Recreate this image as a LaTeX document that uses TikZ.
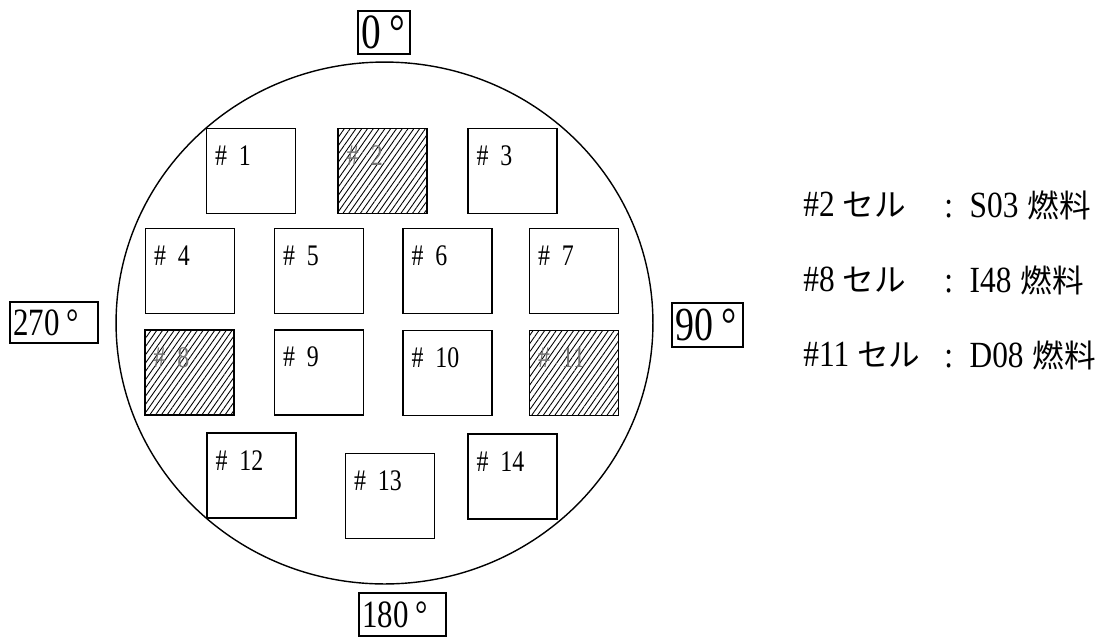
\documentclass[tikz,border=0pt]{standalone}
\usepackage{fontspec}
\setmainfont{Liberation Serif}[FakeStretch=0.8]
\newfontfamily\legfont{Liberation Serif}[FakeStretch=0.85]
\newfontfamily\jp{Noto Sans CJK JP}
\usetikzlibrary{patterns.meta}

\tikzset{
  cell/.style={draw, line width=0.9pt, minimum width=1.78cm, minimum height=1.7cm, inner sep=0pt},
  hatched/.style={cell, pattern={Lines[angle=55,distance=2.7pt,line width=0.5pt]}},
  cellnum/.style={anchor=west, inner sep=0pt, font=\fontsize{17}{19}\selectfont},
  deg/.style={draw, line width=0.6pt, inner xsep=2pt, inner ysep=0pt, align=left},
  legend/.style={anchor=west, inner sep=0pt, font=\legfont\fontsize{21}{23}\selectfont}
}
\newcommand{\jptext}[1]{{\jp\fontsize{18}{20}\selectfont #1}}

\begin{document}
\begin{tikzpicture}[x=0.02cm, y=-0.02cm]
\useasboundingbox (0,0) rectangle (1102,637);
\draw[line width=0.8pt] (384.5,323) ellipse [x radius=5.37cm, y radius=5.22cm];

\node[deg, text width=0.90cm, minimum height=0.86cm, font=\fontsize{28}{30}\selectfont] (d0) at (384,32.5) {0\,°};
\node[deg, text width=1.28cm, minimum height=0.88cm, font=\fontsize{27}{30}\selectfont] (d90) at (707.5,325) {90\,°};
\node[deg, text width=1.60cm, minimum height=0.86cm, font=\fontsize{22}{24}\selectfont] (d180) at (402.5,614.5) {180\,°};
\node[deg, text width=1.62cm, minimum height=0.82cm, font=\fontsize{22}{24}\selectfont] (d270) at (54,322.5) {270\,°};

\node[cell] (c1) at (251,171) {};
\node[hatched] (c2) at (382.5,171) {};
\node[cell] (c3) at (512.5,171) {};
\node[cell] (c4) at (190,271) {};
\node[cell] (c5) at (319,271) {};
\node[cell] (c6) at (447.5,271) {};
\node[cell] (c7) at (574,271) {};
\node[hatched] (c8) at (189.5,372.5) {};
\node[cell] (c9) at (319,372.5) {};
\node[cell] (c10) at (447.5,373) {};
\node[hatched] (c11) at (574,373) {};
\node[cell] (c12) at (251.5,475.5) {};
\node[cell] (c13) at (390,496) {};
\node[cell] (c14) at (512.5,476.5) {};

\node[cellnum] (n1) at ([shift={(9,28)}]c1.north west) {\#\hspace{0.4em}1};
\node[cellnum, text=black!55] (n2) at ([shift={(9,28)}]c2.north west) {\#\hspace{0.4em}2};
\node[cellnum] (n3) at ([shift={(9,28)}]c3.north west) {\#\hspace{0.4em}3};
\node[cellnum] (n4) at ([shift={(9,28)}]c4.north west) {\#\hspace{0.4em}4};
\node[cellnum] (n5) at ([shift={(9,28)}]c5.north west) {\#\hspace{0.4em}5};
\node[cellnum] (n6) at ([shift={(9,28)}]c6.north west) {\#\hspace{0.4em}6};
\node[cellnum] (n7) at ([shift={(9,28)}]c7.north west) {\#\hspace{0.4em}7};
\node[cellnum, text=black!55] (n8) at ([shift={(9,28)}]c8.north west) {\#\hspace{0.4em}8};
\node[cellnum] (n9) at ([shift={(9,28)}]c9.north west) {\#\hspace{0.4em}9};
\node[cellnum] (n10) at ([shift={(9,28)}]c10.north west) {\#\hspace{0.4em}10};
\node[cellnum, text=black!55] (n11) at ([shift={(9,28)}]c11.north west) {\#\hspace{0.4em}11};
\node[cellnum] (n12) at ([shift={(9,28)}]c12.north west) {\#\hspace{0.4em}12};
\node[cellnum] (n13) at ([shift={(9,28)}]c13.north west) {\#\hspace{0.4em}13};
\node[cellnum] (n14) at ([shift={(9,28)}]c14.north west) {\#\hspace{0.4em}14};

\node[legend] (k2) at (803,205) {\#2 \jptext{セル}};
\node[legend] (f2) at (944,205) {:\hspace{0.45em}S03\hspace{0.25em}\jptext{燃料}};
\node[legend] (k8) at (803,280) {\#8 \jptext{セル}};
\node[legend] (f8) at (944,280) {:\hspace{0.45em}I48\hspace{0.25em}\jptext{燃料}};
\node[legend] (k11) at (803,355) {\#11 \jptext{セル}};
\node[legend] (f11) at (944,355) {:\hspace{0.45em}D08\hspace{0.25em}\jptext{燃料}};

\end{tikzpicture}
\end{document}
